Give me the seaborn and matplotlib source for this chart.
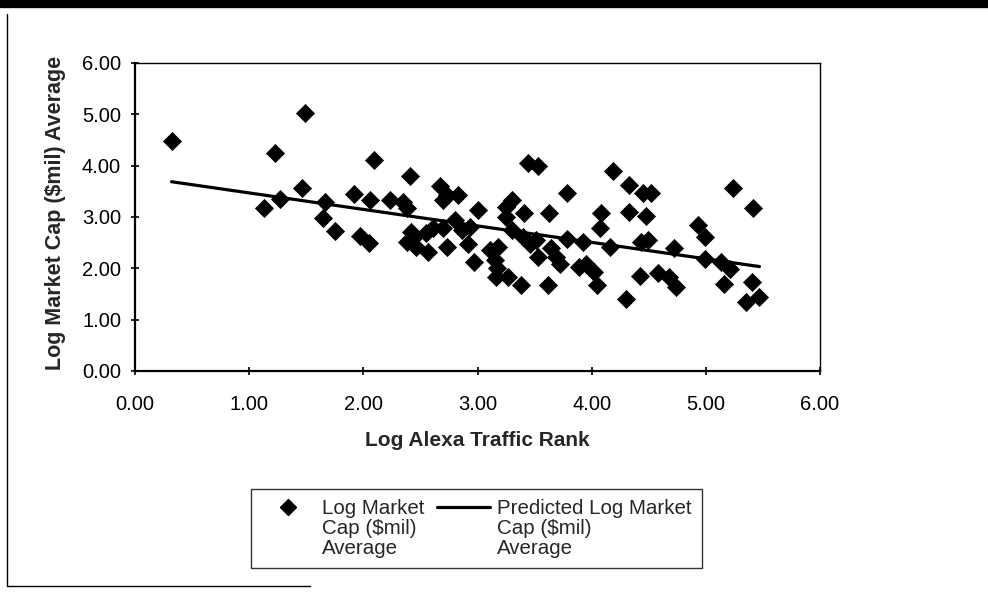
import numpy as np
import pandas as pd
import matplotlib
matplotlib.use("Agg")
import matplotlib.pyplot as plt
from matplotlib.lines import Line2D
from matplotlib.legend_handler import HandlerLine2D
import seaborn as sns

# ---- data ----
log_alexa_rank = [
    0.32, 1.13, 1.23, 1.27, 1.46, 1.49, 1.65, 1.66, 1.75, 1.92,
    1.97, 2.05, 2.06, 2.09, 2.23, 2.35, 2.38, 2.41, 2.38, 2.42,
    2.44, 2.46, 2.55, 2.57, 2.61, 2.67, 2.70, 2.70, 2.73, 2.73,
    2.80, 2.83, 2.86, 2.92, 2.93, 2.97, 3.00, 3.11, 3.15, 3.17,
    3.16, 3.27, 3.18, 3.25, 3.25, 3.30, 3.30, 3.38, 3.40, 3.41,
    3.44, 3.46, 3.51, 3.53, 3.53, 3.62, 3.63, 3.64, 3.69, 3.72,
    3.78, 3.78, 3.89, 3.92, 3.95, 4.02, 4.05, 4.07, 4.08, 4.16,
    4.19, 4.30, 4.33, 4.33, 4.42, 4.43, 4.45, 4.48, 4.49, 4.52,
    4.58, 4.68, 4.72, 4.74, 4.93, 4.99, 4.99, 5.13, 5.16, 5.21,
    5.24, 5.35, 5.40, 5.41, 5.47,
]
log_market_cap = [
    4.48, 3.17, 4.25, 3.35, 3.57, 5.03, 2.99, 3.30, 2.73, 3.44,
    2.63, 2.50, 3.33, 4.12, 3.33, 3.30, 3.18, 3.80, 2.52, 2.71,
    2.62, 2.42, 2.68, 2.32, 2.78, 3.60, 3.33, 2.78, 3.43, 2.42,
    2.94, 3.43, 2.75, 2.48, 2.81, 2.12, 3.14, 2.35, 2.16, 2.00,
    1.83, 1.83, 2.42, 3.00, 3.20, 3.33, 2.75, 1.67, 2.61, 3.07,
    4.05, 2.48, 2.55, 3.99, 2.22, 1.67, 3.07, 2.39, 2.22, 2.09,
    3.46, 2.58, 2.03, 2.52, 2.09, 1.93, 1.67, 2.78, 3.07, 2.42,
    3.89, 1.41, 3.63, 3.10, 1.86, 2.52, 3.46, 3.02, 2.55, 3.46,
    1.90, 1.83, 2.39, 1.63, 2.84, 2.61, 2.19, 2.12, 1.70, 1.99,
    3.56, 1.34, 1.73, 3.17, 1.44,
]
# regression line (intercept, slope)
pred_intercept = 3.79
pred_slope = -0.321

x_ticks = [0, 1, 2, 3, 4, 5, 6]
y_ticks = [0, 1, 2, 3, 4, 5, 6]

scatter_label = "Log Market\nCap ($mil)\nAverage"
line_label = "Predicted Log Market\nCap ($mil)\nAverage"

df = pd.DataFrame({"x": log_alexa_rank, "y": log_market_cap})
df["pred"] = pred_intercept + pred_slope * df["x"]
df_line = df.sort_values("x")

# ---- figure ----
sns.set_theme(style="white")
plt.rcParams["font.family"] = ["Liberation Sans", "DejaVu Sans"]

W, H = 988, 596
fig = plt.figure(figsize=(W / 100, H / 100), dpi=100)
ax = fig.add_axes([135 / W, 1 - 371 / H, (820 - 135) / W, (371 - 63) / H])

sns.lineplot(data=df_line, x="x", y="pred", ax=ax, color="black", linewidth=2.3,
             label=line_label, sort=True, estimator=None)
sns.scatterplot(data=df, x="x", y="y", ax=ax, marker="D", color="black",
                s=85, edgecolor="black", linewidth=0.5, label=scatter_label, zorder=3)

ax.set_xlim(0, 6)
ax.set_ylim(0, 6)
ax.set_xticks(x_ticks)
ax.set_yticks(y_ticks)
ax.set_xticklabels([f"{v:.2f}" for v in x_ticks], fontsize=14.5)
ax.set_yticklabels([f"{v:.2f}" for v in y_ticks], fontsize=14.5)
ax.tick_params(axis="both", direction="inout", length=6, width=1.2, color="black",
               labelcolor="black", bottom=True, left=True)
ax.tick_params(axis="x", pad=14)
ax.tick_params(axis="y", pad=7)
for side, sp in ax.spines.items():
    sp.set_color("black")
    sp.set_linewidth(1.6 if side in ("left", "bottom") else 1.0)

ax.set_xlabel("Log Alexa Traffic Rank", fontsize=15, fontweight="bold")
ax.set_ylabel("Log Market Cap ($mil) Average", fontsize=15.5, fontweight="bold")
ax.xaxis.set_label_coords(0.5, -(441 - 371) / 308)
ax.yaxis.set_label_coords((55 - 135) / 685, (371 - 213) / 308)
ax.xaxis.label.set_va("center")
ax.yaxis.label.set_va("center")

# legend below the plot (handles aligned with the first text line)
leg_fs = 14.8
leg_ls = 1.07


class TopLineHandler(HandlerLine2D):
    def create_artists(self, legend, orig_handle, xdescent, ydescent, width,
                       height, fontsize, trans):
        arts = super().create_artists(legend, orig_handle, xdescent, ydescent,
                                      width, height, fontsize, trans)
        for a in arts:
            a.set_ydata(np.asarray(a.get_ydata(), dtype=float) + fontsize * leg_ls)
        return arts


ax.get_legend().remove()
h_sc = Line2D([], [], marker="D", color="black", linestyle="none", markersize=8)
h_ln = Line2D([], [], color="black", linewidth=2.3)
leg = fig.legend([h_sc, h_ln], [scatter_label, line_label], ncol=2,
                 loc="center", bbox_to_anchor=((245 + 708) / 2 / W, 1 - 528.5 / H),
                 frameon=True, fancybox=False, shadow=False, fontsize=leg_fs,
                 handlelength=2.6, columnspacing=0.6, handletextpad=0.35,
                 borderpad=0.5, labelspacing=0.2,
                 handler_map={h_sc: TopLineHandler(), h_ln: TopLineHandler()})
for t in leg.get_texts():
    t.set_linespacing(leg_ls)
leg.get_frame().set_edgecolor("black")
leg.get_frame().set_linewidth(1.0)

# scanned page frame
fig.add_artist(Line2D([0, 1], [1 - 4 / H, 1 - 4 / H], transform=fig.transFigure,
                      color="black", linewidth=6))
fig.add_artist(Line2D([7 / W, 7 / W], [1 - 14 / H, 1 - 586 / H],
                      transform=fig.transFigure, color="black", linewidth=1.0))
fig.add_artist(Line2D([7 / W, 310 / W], [1 - 586 / H, 1 - 586 / H],
                      transform=fig.transFigure, color="black", linewidth=1.0))

fig.savefig("out.png", dpi=100, facecolor="white")
